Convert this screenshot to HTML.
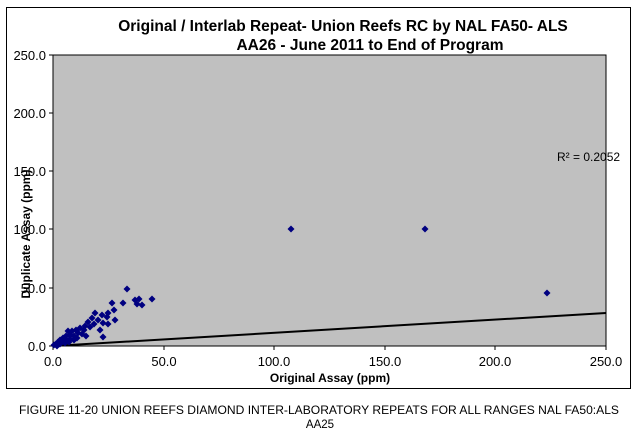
<!DOCTYPE html>
<html><head><style>
html,body{margin:0;padding:0;background:#fff;width:643px;height:442px;overflow:hidden}
</style></head><body>
<svg width="643" height="442" xmlns="http://www.w3.org/2000/svg" font-family="Liberation Sans, Arial, sans-serif">
<rect x="6.5" y="7.5" width="624" height="381" fill="#fff" stroke="#000" stroke-width="1"/>
<text x="343" y="31" font-size="15.5" font-weight="bold" text-anchor="middle">Original / Interlab Repeat- Union Reefs RC by NAL FA50- ALS</text>
<text x="370" y="50" font-size="15.5" font-weight="bold" text-anchor="middle">AA26 - June 2011 to End of Program</text>
<rect x="53" y="55" width="553" height="291" fill="#c0c0c0" stroke="#000" stroke-width="1"/>
<g stroke="#000" stroke-width="1">
<line x1="49" y1="55" x2="53" y2="55"/><line x1="49" y1="113" x2="53" y2="113"/><line x1="49" y1="171" x2="53" y2="171"/><line x1="49" y1="229" x2="53" y2="229"/><line x1="49" y1="288" x2="53" y2="288"/><line x1="49" y1="346" x2="53" y2="346"/>
<line x1="53" y1="346" x2="53" y2="350"/><line x1="164" y1="346" x2="164" y2="350"/><line x1="274" y1="346" x2="274" y2="350"/><line x1="385" y1="346" x2="385" y2="350"/><line x1="495" y1="346" x2="495" y2="350"/><line x1="606" y1="346" x2="606" y2="350"/>
</g>
<g font-size="13" text-anchor="end">
<text x="46" y="60">250.0</text><text x="46" y="118">200.0</text><text x="46" y="176">150.0</text><text x="46" y="234">100.0</text><text x="46" y="293">50.0</text><text x="46" y="351">0.0</text>
</g>
<g font-size="13" text-anchor="middle">
<text x="53" y="366">0.0</text><text x="164" y="366">50.0</text><text x="274" y="366">100.0</text><text x="385" y="366">150.0</text><text x="495" y="366">200.0</text><text x="606" y="366">250.0</text>
</g>
<text x="330" y="382" font-size="12" font-weight="bold" text-anchor="middle">Original Assay (ppm)</text>
<text transform="translate(30,234) rotate(-90)" font-size="12" font-weight="bold" text-anchor="middle">Duplicate Assay (ppm)</text>
<text x="557" y="161" font-size="12">R² = 0.2052</text>
<line x1="53" y1="346" x2="606" y2="313" stroke="#000" stroke-width="2"/>
<g fill="#000080">
<defs><path id="d" d="M0,-3.5L3.5,0L0,3.5L-3.5,0Z"/></defs>
<use href="#d" x="291" y="229"/><use href="#d" x="425" y="229"/><use href="#d" x="547" y="293"/>
<use href="#d" x="127" y="289"/><use href="#d" x="139" y="299"/><use href="#d" x="152" y="299"/><use href="#d" x="123" y="303"/><use href="#d" x="137" y="304"/><use href="#d" x="142" y="305"/><use href="#d" x="135" y="300"/>
<use href="#d" x="112" y="303"/><use href="#d" x="114" y="310"/><use href="#d" x="108" y="313"/><use href="#d" x="95" y="313"/><use href="#d" x="102" y="315"/><use href="#d" x="107" y="317"/><use href="#d" x="115" y="320"/><use href="#d" x="88" y="322"/><use href="#d" x="103" y="323"/><use href="#d" x="108" y="324"/><use href="#d" x="100" y="330"/><use href="#d" x="103" y="337"/>
<use href="#d" x="92" y="318"/><use href="#d" x="98" y="320"/><use href="#d" x="85" y="326"/><use href="#d" x="80" y="328"/><use href="#d" x="76" y="330"/><use href="#d" x="72" y="331"/><use href="#d" x="68" y="331"/><use href="#d" x="84" y="330"/><use href="#d" x="90" y="327"/><use href="#d" x="94" y="324"/>
<use href="#d" x="70" y="335"/><use href="#d" x="74" y="336"/><use href="#d" x="78" y="333"/><use href="#d" x="82" y="334"/><use href="#d" x="66" y="336"/><use href="#d" x="63" y="338"/><use href="#d" x="60" y="340"/><use href="#d" x="58" y="342"/><use href="#d" x="56" y="344"/><use href="#d" x="54" y="345"/>
<use href="#d" x="62" y="342"/><use href="#d" x="66" y="340"/><use href="#d" x="70" y="339"/><use href="#d" x="74" y="340"/><use href="#d" x="77" y="338"/><use href="#d" x="60" y="344"/><use href="#d" x="57" y="346"/><use href="#d" x="65" y="343"/><use href="#d" x="69" y="342"/><use href="#d" x="86" y="336"/>
</g>
<text x="319" y="414" font-size="11.5" text-anchor="middle" textLength="600" lengthAdjust="spacingAndGlyphs">FIGURE 11-20 UNION REEFS DIAMOND INTER-LABORATORY REPEATS FOR ALL RANGES NAL FA50:ALS</text>
<text x="320" y="428" font-size="11.5" text-anchor="middle">AA25</text>
</svg>
</body></html>
